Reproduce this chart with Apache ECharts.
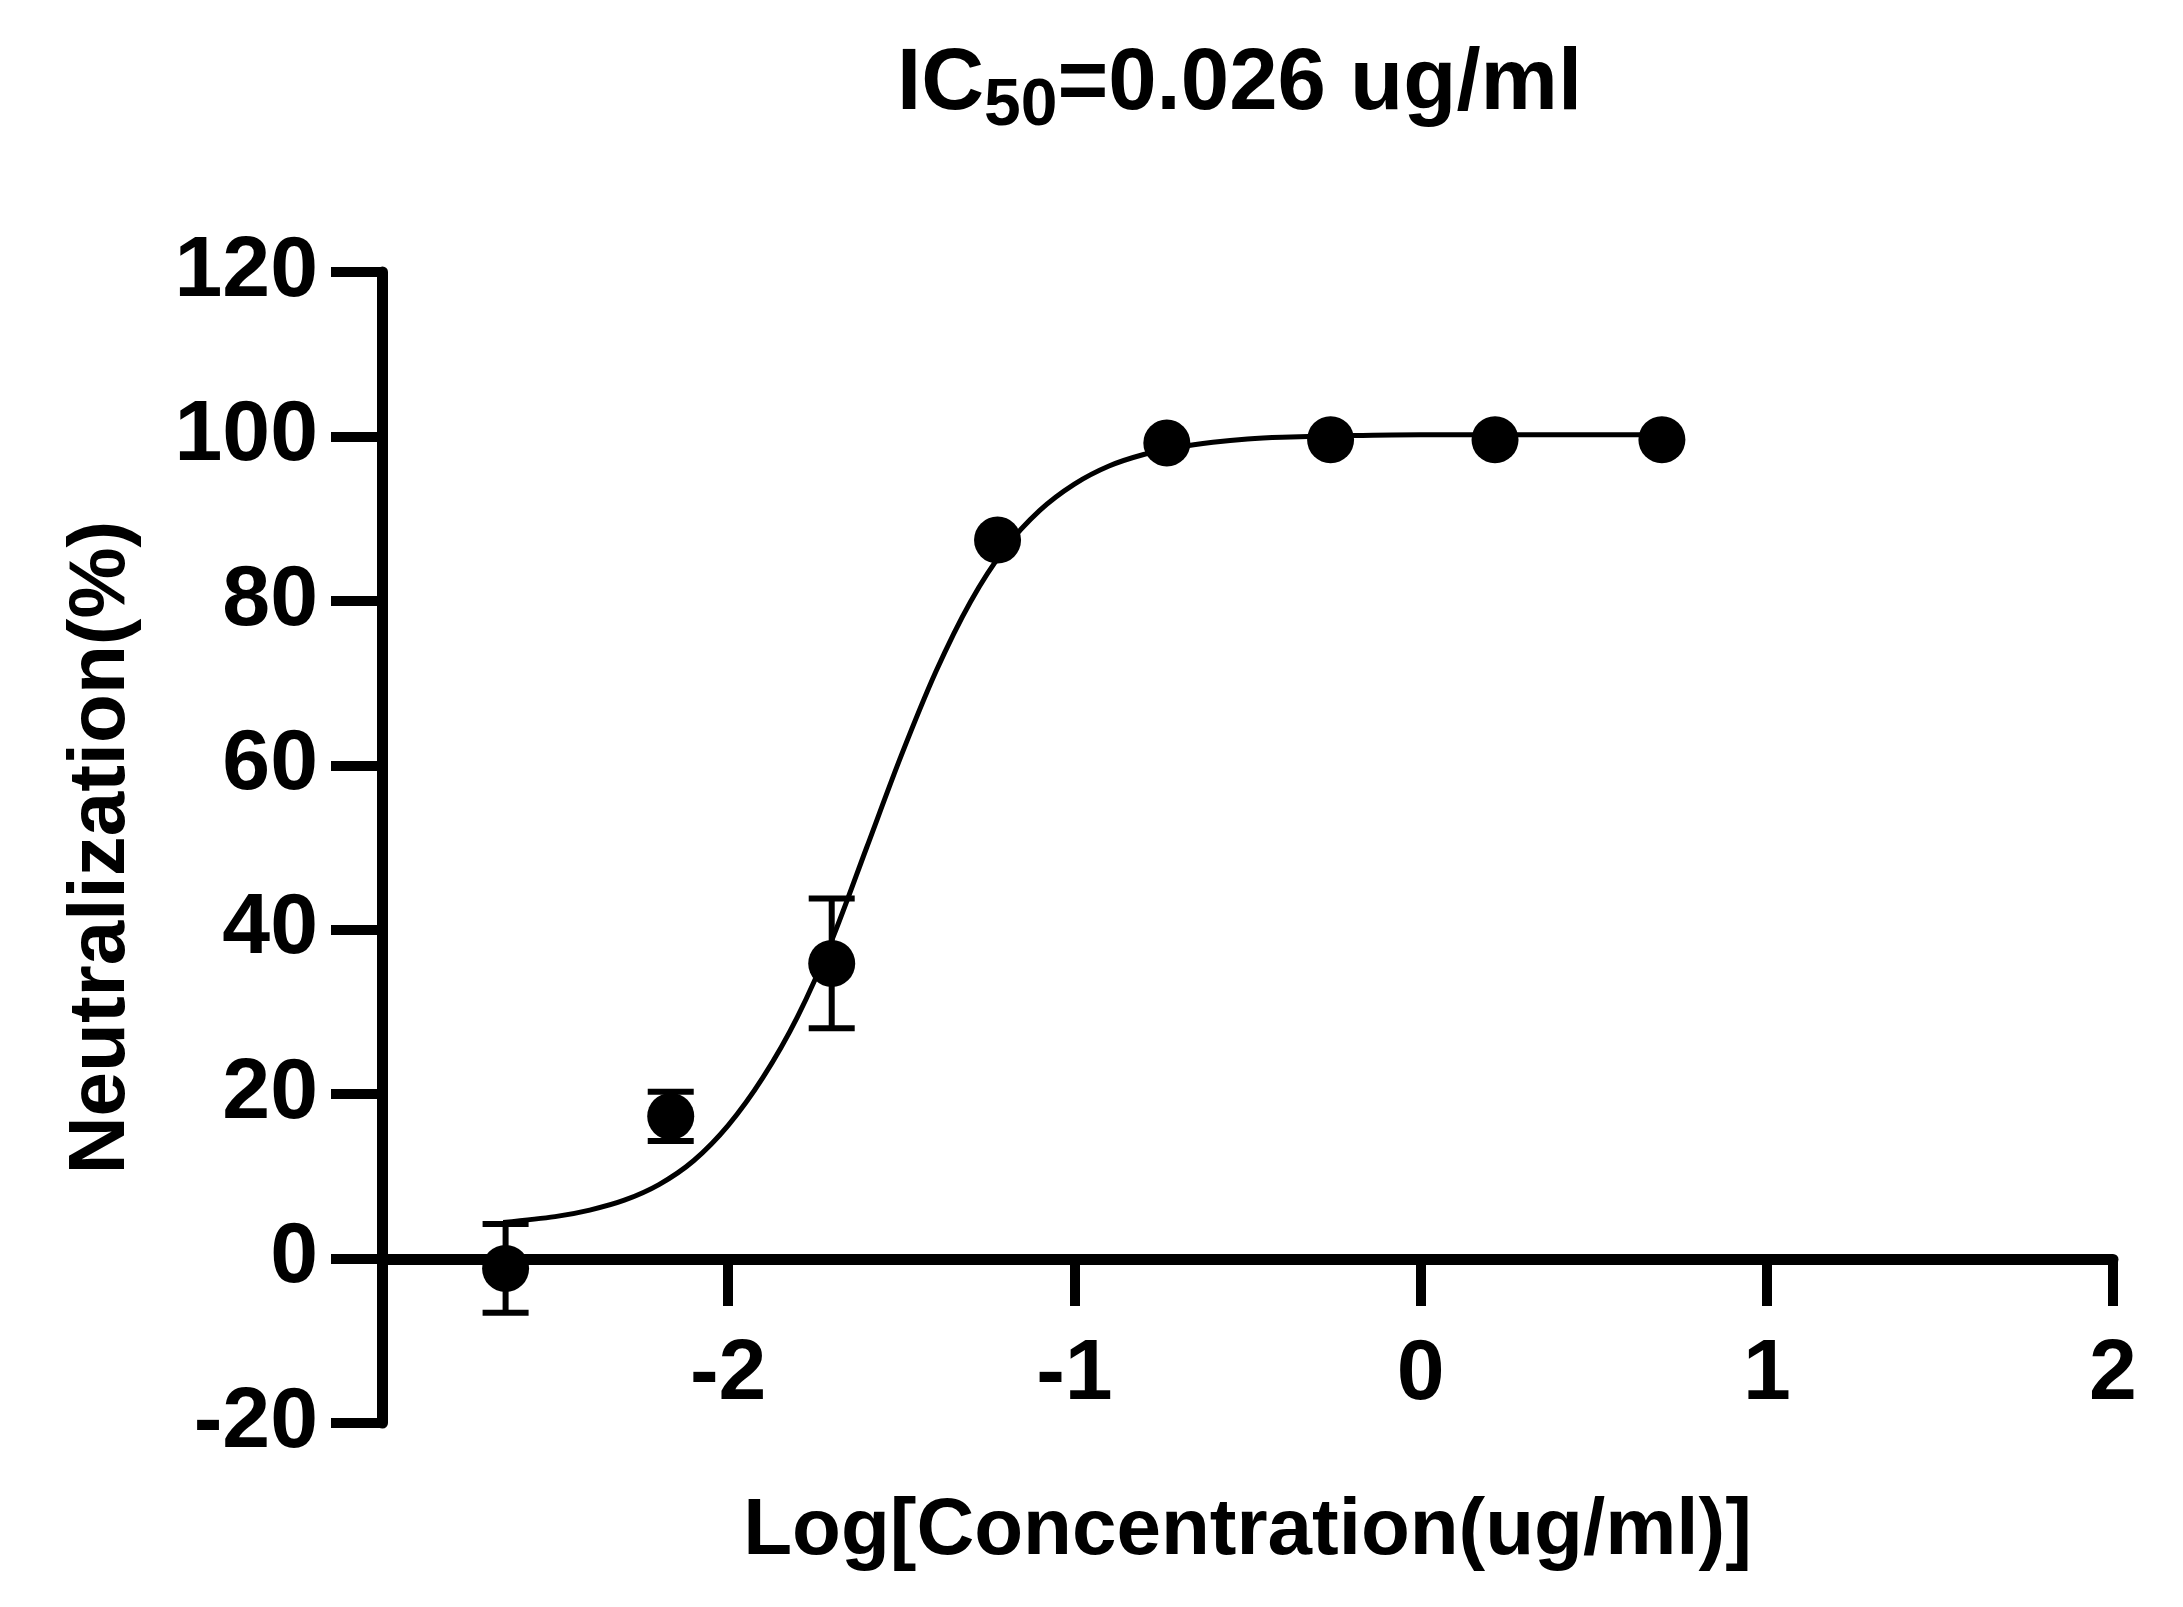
<!DOCTYPE html>
<html><head><meta charset="utf-8">
<script src="https://cdn.jsdelivr.net/npm/echarts@6/dist/echarts.min.js"></script>
<style>html,body{margin:0;padding:0;background:#fff}#c{width:2183px;height:1607px}</style>
</head><body><div id="c"></div>
<script>
// Measured data (log10 concentration, % neutralization, SD)
const logConc = [-2.643, -2.166, -1.701, -1.222, -0.733, -0.260, 0.215, 0.697];
const neutralization = [-1.2, 17.3, 35.9, 87.4, 99.2, 99.6, 99.6, 99.6];
const sd = [5.4, 3.0, 7.9, 0, 0, 0, 0, 0];
// Fitted curve
const curveX = [-2.65, -2.5, -2.4, -2.3, -2.2, -2.1, -2.0, -1.9, -1.8, -1.7, -1.6, -1.5, -1.4, -1.3, -1.2, -1.1, -1.0, -0.9, -0.8, -0.7, -0.6, -0.5, -0.4, -0.2, 0.0, 0.2, 0.45, 0.7];
const curveY = [4.4, 5.1, 5.9, 7.1, 9.0, 11.9, 16.2, 22.0, 29.4, 38.8, 50.0, 61.2, 71.4, 79.9, 86.4, 91.0, 94.2, 96.4, 97.8, 98.7, 99.3, 99.7, 99.9, 100.1, 100.2, 100.2, 100.2, 100.2];
const xTickLabels = ['-2', '-1', '0', '1', '2'];
const yTickLabels = ['-20', '0', '20', '40', '60', '80', '100', '120'];
const titleMain = 'IC';
const titleSub = '50';
const titleRest = '=0.026 ug/ml';
const xName = 'Log[Concentration(ug/ml)]';
const yName = 'Neutralization(%)';

const FONT = 'Liberation Sans, Arial, sans-serif';
const chart = echarts.init(document.getElementById('c'), null, {renderer: 'canvas'});

const errData = logConc.map((x, i) => [x, neutralization[i] - sd[i], neutralization[i] + sd[i], sd[i]]).filter(d => d[3] > 0);

chart.setOption({
  backgroundColor: '#fff',
  animation: false,
  title: {
    text: '{a|' + titleMain + '}{b|' + titleSub + '}{a|' + titleRest + '}',
    left: 897,
    top: 30,
    padding: 0,
    textStyle: {
      rich: {
        a: {fontFamily: FONT, fontWeight: 'bold', fontSize: 87, lineHeight: 110, color: '#000'},
        b: {fontFamily: FONT, fontWeight: 'bold', fontSize: 66, lineHeight: 48, verticalAlign: 'bottom', color: '#000'}
      }
    }
  },
  grid: {left: 382, right: 70, top: 272, bottom: 184, containLabel: false, outerBoundsMode: 'none'},
  xAxis: {
    type: 'value', min: -3, max: 2, interval: 1,
    offset: -164,
    name: xName, nameLocation: 'middle', nameGap: 233, nameMoveOverlap: false,
    nameTextStyle: {fontFamily: FONT, fontWeight: 'bold', fontSize: 80, color: '#000'},
    axisLine: {onZero: false, lineStyle: {color: '#000', width: 11}},
    axisTick: {show: true, length: 47, lineStyle: {color: '#000', width: 10}},
    axisLabel: {
      margin: 73, fontFamily: FONT, fontWeight: 'bold', fontSize: 86, color: '#000',
      formatter: v => { const s = String(v); return xTickLabels.indexOf(s) >= 0 ? s : ''; }
    },
    splitLine: {show: false}
  },
  yAxis: {
    type: 'value', min: -20, max: 120, interval: 20,
    name: yName, nameLocation: 'middle', nameGap: 240, nameMoveOverlap: false,
    nameTextStyle: {fontFamily: FONT, fontWeight: 'bold', fontSize: 80, color: '#000'},
    axisLine: {show: true, onZero: false, lineStyle: {color: '#000', width: 11}},
    axisTick: {show: true, length: 51, lineStyle: {color: '#000', width: 10}},
    axisLabel: {
      margin: 64, fontFamily: FONT, fontWeight: 'bold', fontSize: 86, color: '#000',
      formatter: v => { const s = String(v); return yTickLabels.indexOf(s) >= 0 ? s : ''; }
    },
    splitLine: {show: false}
  },
  series: [
    {
      type: 'line',
      data: curveX.map((x, i) => [x, curveY[i]]),
      showSymbol: false,
      smooth: 0.3,
      lineStyle: {color: '#000', width: 5},
      z: 2
    },
    {
      type: 'custom',
      data: errData,
      encode: {x: 0, y: [1, 2]},
      z: 3,
      renderItem: function (params, api) {
        const x = api.value(0);
        const pLo = api.coord([x, api.value(1)]);
        const pHi = api.coord([x, api.value(2)]);
        const hw = 23;
        const st = {stroke: '#000', lineWidth: 6};
        return {
          type: 'group',
          children: [
            {type: 'line', shape: {x1: pLo[0], y1: pLo[1], x2: pHi[0], y2: pHi[1]}, style: st},
            {type: 'line', shape: {x1: pLo[0] - hw, y1: pLo[1], x2: pLo[0] + hw, y2: pLo[1]}, style: st},
            {type: 'line', shape: {x1: pHi[0] - hw, y1: pHi[1], x2: pHi[0] + hw, y2: pHi[1]}, style: st}
          ]
        };
      }
    },
    {
      type: 'scatter',
      data: logConc.map((x, i) => [x, neutralization[i]]),
      symbol: 'circle',
      symbolSize: 47,
      itemStyle: {color: '#000', opacity: 1},
      emphasis: {disabled: true},
      z: 4
    }
  ]
});
</script>
</body></html>
